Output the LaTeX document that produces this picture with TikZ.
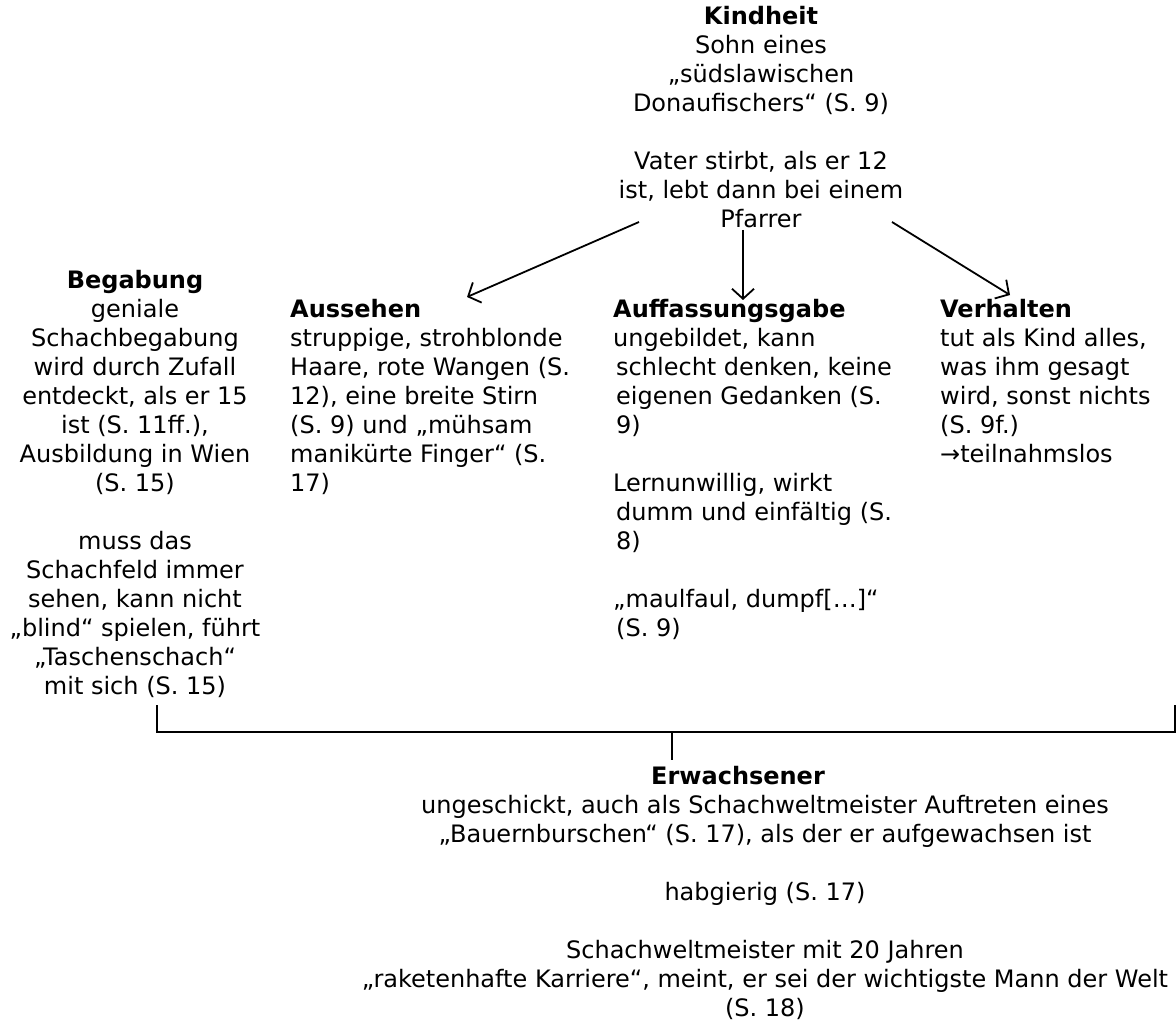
\documentclass[tikz,border=0pt]{standalone}
\usepackage{fontspec}
\setmainfont{DejaVu Sans}
\usetikzlibrary{arrows.meta}
\begin{document}
\begin{tikzpicture}[x=1pt,y=-1pt,
  txt/.style={inner sep=0pt, font=\fontsize{24}{29}\selectfont},
  ltxt/.style={txt, align=left, anchor=base west},
  ctxt/.style={txt, align=center, anchor=base},
  arr/.style={line width=1.8pt, -{Straight Barb[length=10pt,width=22pt]}},
  bracket/.style={line width=1.4pt}]
\useasboundingbox (0,0) rectangle (1176,1024);
\fill[white] (0,0) rectangle (1176,1024);

% anchors are at the baseline of the LAST line of each text block
\node[ctxt] (kind) at (761,228) {\textbf{Kindheit}\\Sohn eines\\„südslawischen\\Donaufischers“ (S. 9)\\[29pt]Vater stirbt, als er 12\\ist, lebt dann bei einem\\Pfarrer};

\node[ctxt] (beg) at (135,694) {\textbf{Begabung}\\geniale\\Schachbegabung\\wird durch Zufall\\entdeckt, als er 15\\ist (S. 11ff.),\\Ausbildung in Wien\\(S. 15)\\[29pt]muss das\\Schachfeld immer\\sehen, kann nicht\\„blind“ spielen, führt\\„Taschenschach“\\mit sich (S. 15)};

\node[ltxt] (auss) at (290,491) {\textbf{Aussehen}\\struppige, strohblonde\\Haare, rote Wangen (S.\\12), eine breite Stirn\\(S. 9) und „mühsam\\manikürte Finger“ (S.\\17)};

\node[ltxt] (auff) at (613,636) {\textbf{Auffassungsgabe}\\ungebildet, kann\\\hspace*{3pt}schlecht denken, keine\\\hspace*{3pt}eigenen Gedanken (S.\\\hspace*{3pt}9)\\[29pt]Lernunwillig, wirkt\\\hspace*{3pt}dumm und einfältig (S.\\\hspace*{3pt}8)\\[29pt]„maulfaul, dumpf[…]“\\\hspace*{3pt}(S. 9)};

\node[ltxt] (verh) at (940,462) {\textbf{Verhalten}\\tut als Kind alles,\\was ihm gesagt\\wird, sonst nichts\\(S. 9f.)\\→teilnahmslos};

\node[ctxt] (erw) at (738,784) {\textbf{Erwachsener}};
\node[ctxt] (erwb) at (765,1016) {ungeschickt, auch als Schachweltmeister Auftreten eines\\„Bauernburschen“ (S. 17), als der er aufgewachsen ist\\[29pt]habgierig (S. 17)\\[29pt]Schachweltmeister mit 20 Jahren\\„raketenhafte Karriere“, meint, er sei der wichtigste Mann der Welt\\(S. 18)};

% arrows from Kindheit
\coordinate (ks1) at (639,222);
\coordinate (ks2) at (743,230);
\coordinate (ks3) at (892,222);
\coordinate (t1) at (467,297);
\coordinate (t2) at (743,300);
\coordinate (t3) at (1010,295);
\draw[arr] (ks1) -- (t1);
\draw[arr] (ks2) -- (t2);
\draw[arr] (ks3) -- (t3);

% bracket to Erwachsener
\coordinate (bl) at (157,705);
\coordinate (br) at (1175,705);
\coordinate (bj) at (672,732);
\coordinate (bm) at (672,760);
\draw[bracket] (bl) |- (bj) -| (br);
\draw[bracket] (bj) -- (bm);
\end{tikzpicture}
\end{document}
